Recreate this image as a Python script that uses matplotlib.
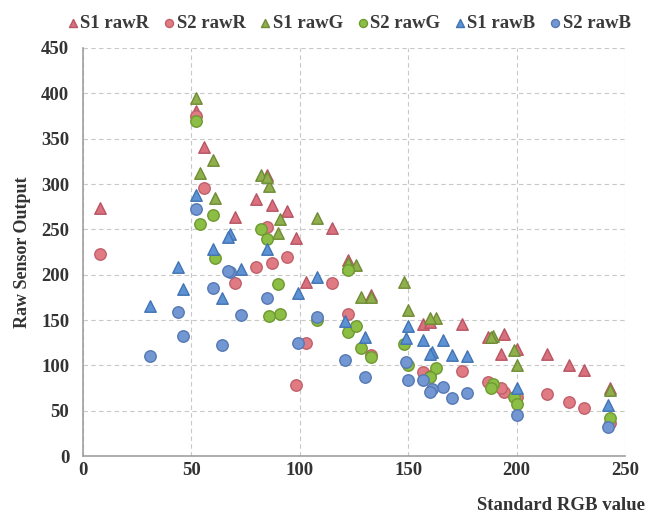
import matplotlib
matplotlib.use("Agg")
import matplotlib.pyplot as plt

# standard sRGB values of the 24 patches, per channel
x_r = [115, 194, 98, 87, 133, 103, 214, 80, 193, 94, 157, 224,
       56, 70, 175, 231, 187, 8, 243, 200, 160, 122, 85, 52]
x_g = [82, 150, 122, 108, 128, 189, 126, 91, 90, 60, 188, 163,
       61, 148, 54, 199, 86, 133, 243, 200, 160, 122, 85, 52]
x_b = [68, 130, 157, 67, 177, 170, 44, 166, 99, 108, 64, 46,
       150, 73, 60, 31, 149, 161, 242, 200, 160, 121, 85, 52]

s1_raw_r = [252, 135, 241, 277, 178, 192, 113, 283, 113, 270, 146, 100,
            341, 264, 146, 95, 131, 274, 75, 118, 148, 216, 310, 380]
s2_raw_r = [191, 71, 78, 213, 112, 125, 69, 209, 75, 220, 93, 60,
            296, 191, 94, 53, 82, 223, 37, 65, 88, 157, 253, 375]
s1_raw_g = [310, 161, 209, 263, 176, 133, 211, 262, 246, 326, 131, 152,
            285, 192, 312, 117, 298, 176, 73, 100, 152, 213, 308, 395]
s2_raw_g = [250, 100, 137, 150, 119, 80, 143, 157, 190, 266, 75, 97,
            218, 124, 256, 65, 154, 109, 42, 58, 87, 205, 239, 370]
s1_raw_b = [245, 131, 128, 242, 110, 111, 209, 128, 180, 198, 174, 184,
            144, 206, 228, 166, 130, 115, 56, 75, 113, 149, 228, 288]
s2_raw_b = [203, 87, 84, 204, 70, 64, 159, 76, 125, 153, 123, 132,
            84, 156, 185, 110, 104, 74, 32, 45, 71, 106, 174, 272]

series = [
    ("S1 rawR", x_r, s1_raw_r, "^", "#d9707e", "#b85563"),
    ("S2 rawR", x_r, s2_raw_r, "o", "#e07b84", "#c0606a"),
    ("S1 rawG", x_g, s1_raw_g, "^", "#8fae4c", "#6f8c35"),
    ("S2 rawG", x_g, s2_raw_g, "o", "#8cbd45", "#6e9a30"),
    ("S1 rawB", x_b, s1_raw_b, "^", "#5d92d4", "#4273b3"),
    ("S2 rawB", x_b, s2_raw_b, "o", "#7297d2", "#5679b3"),
]

plt.rcParams['font.family'] = ['Liberation Serif', 'DejaVu Serif']

fig = plt.figure(figsize=(6.49, 5.16), dpi=100)
ax = fig.add_axes([0.128, 0.116, 0.835, 0.791])

for name, xs, ys, mk, fc, ec in series:
    ax.scatter(xs, ys, marker=mk, s=68, facecolor=fc, edgecolor=ec,
               linewidth=1.0, label=name, zorder=3)

ax.set_xlim(0, 250)
ax.set_ylim(0, 450)
ax.set_xticks(range(0, 251, 50))
ax.set_yticks(range(0, 451, 50))
ax.grid(True, color="#c8c8c8", linestyle=(0, (4, 3)), linewidth=0.8)
ax.set_axisbelow(True)
for side in ["top", "right"]:
    ax.spines[side].set_visible(False)
for side in ["left", "bottom"]:
    ax.spines[side].set_color("#a0a0a0")
    ax.spines[side].set_linewidth(1.2)
ax.tick_params(length=0, labelsize=13.5, colors="#333333")
ax.tick_params(axis="y", pad=10)
ax.tick_params(axis="x", pad=4)
for lbl in ax.get_xticklabels() + ax.get_yticklabels():
    lbl.set_fontweight("bold")

fig.text(645 / 649, 1 - 505 / 516, "Standard RGB value", fontsize=13.5,
         fontweight="bold", color="#333333", ha="right", va="center")
fig.text(23 / 649, 1 - 252 / 516, "Raw Sensor Output", fontsize=13,
         fontweight="bold", color="#333333", ha="center", va="center",
         rotation=90)

leg = fig.legend(loc="upper right", bbox_to_anchor=(0.995, 1.0), ncol=6,
                 frameon=False, handlelength=0.5, handletextpad=0.15,
                 columnspacing=0.8, markerscale=0.7, borderpad=0.3,
                 prop={"weight": "bold", "size": 13.5})
for t in leg.get_texts():
    t.set_color("#3a3a3a")

fig.savefig("out.png", dpi=100)
